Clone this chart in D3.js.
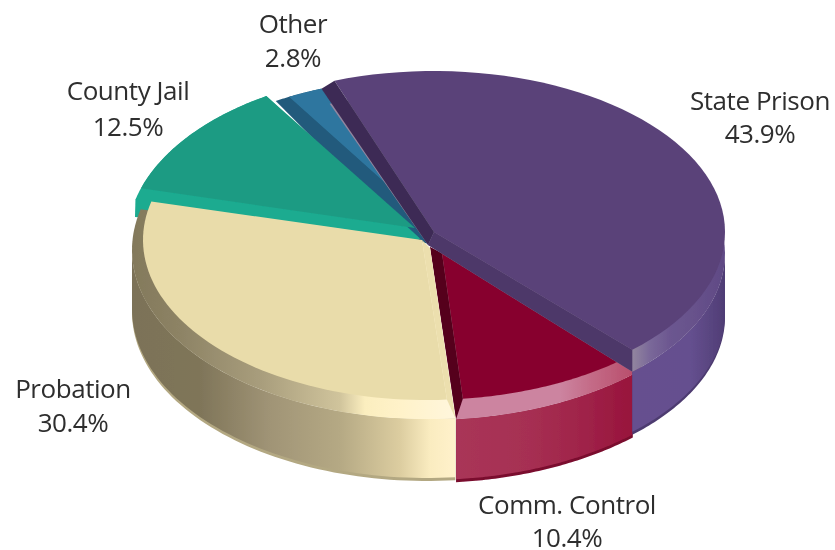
<!DOCTYPE html>
<html><head><meta charset="utf-8">
<script src="https://cdn.jsdelivr.net/npm/d3@7"></script>
<style>html,body{margin:0;padding:0;background:#fff}svg{display:block}</style>
</head><body><svg id="c" width="835" height="550" viewBox="0 0 835 550"></svg>
<script>
const categories = ["State Prison","Comm. Control","Probation","County Jail","Other"];
const shares = [43.9,10.4,30.4,12.5,2.8];
const percentLabels = ["43.9%","10.4%","30.4%","12.5%","2.8%"];

// Presentation only: every slice is exploded and bevelled on its own ellipse.
const deg = Math.PI/180;
const looks = {
 "State Prison":{order:3,c:[434,232],rx:291,ry:161,bevel:22,wall:60,apexOuter:[428,245],apexFace:[434,232],startNudge:1,
   face:"#5a4279",strip:"#4d3b70",
   bevelStops:[[632,"#93869f"],[650,"#7a6899"],[670,"#6c5790"],[725,"#604a85"]],
   wallStops:[[632,"#66508f"],[690,"#65508f"],[712,"#58447f"],[725,"#4f3d75"]],
   bands:[{from:"start",shift:[-13,8],fill:"#3d2c55"},{from:"end",fill:"#4d3769"}]},
 "Comm. Control":{order:2,c:[427,230],rx:302,ry:170,bevel:20,wall:60,apexOuter:[430,247],apexFace:[442,253],endNudge:-1.3,bevelStartNudge:-3,
   face:"#87052e",strip:"#7a0a2d",
   bevelStops:[[457,"#cc84a0"],[560,"#cc84a0"],[590,"#c46c88"],[632,"#b94f6d"]],
   wallStops:[[457,"#a93558"],[530,"#a62f52"],[580,"#a0244a"],[632,"#98143c"]],
   bands:[{from:"end",fill:"#55001f"}]},
 "Probation":{order:4,c:[427,240],rx:284,ry:160,outer:{c:[427,250],rx:295,ry:169},wall:59,apexOuter:[430,248],apexFace:[422,240],startNudge:1.5,
   face:"#e9dcaa",strip:"#b3a882",
   bevelStops:[[132,"#83795b"],[180,"#8d8365"],[260,"#a89d7c"],[340,"#d0c49c"],[365,"#fbeebf"],[400,"#fff2c9"],[455,"#fff6dc"]],
   wallStops:[[132,"#7c7258"],[200,"#7f7559"],[270,"#a09476"],[340,"#b5a984"],[400,"#dccda0"],[430,"#faecc0"],[455,"#fff1cb"]],
   bands:[{from:"start",fill:"#ecdfae"}]},
 "County Jail":{order:1,c:[415,240],rx:288,ry:168,apexFace:[415,228],startNudge:4,underApex:[[420,238.5],[418,240],[135,217]],
   face:"#1e9b83",under:"#1aab90"},
 "Other":{order:0,c:[426,238],rx:291,ry:160,apexFace:[430,223],startNudge:3,underApex:[[436,246],[414,240]],
   face:"#2f769f",under:"#215a7b"}
};

const pie = d3.pie().sort(null).value(d=>d).startAngle(-21*deg).endAngle(339*deg);
const arcs = pie(shares);
const pt = (e,a)=>[e.c[0]+e.rx*Math.sin(a), e.c[1]-e.ry*Math.cos(a)];
const line = d3.line();
const sweep = (e,a0,a1)=>d3.range(0,61).map(i=>pt(e,a0+(a1-a0)*i/60));

const svg = d3.select("#c");
const defs = svg.append("defs");
defs.append("filter").attr("id","soft").attr("x","-5%").attr("y","-5%").attr("width","110%").attr("height","110%")
  .append("feGaussianBlur").attr("stdDeviation",0.55);
function grad(id,stops){
  const xs = stops.map(s=>s[0]), x0=d3.min(xs), x1=d3.max(xs);
  const g = defs.append("linearGradient").attr("id",id).attr("gradientUnits","userSpaceOnUse")
    .attr("x1",x0).attr("x2",x1).attr("y1",0).attr("y2",0);
  stops.forEach(s=>g.append("stop").attr("offset",(s[0]-x0)/(x1-x0)).attr("stop-color",s[1]));
  return `url(#${id})`;
}
const root = svg.append("g").attr("filter","url(#soft)");

categories.map((name,i)=>({name,i,arc:arcs[i],look:looks[name]}))
 .sort((a,b)=>a.look.order-b.look.order)
 .forEach(({name,i,arc,look})=>{
  const g = root.append("g").attr("class","slice").attr("data-name",name);
  const a0=arc.startAngle, a1=arc.endAngle;
  const a0f=a0+(look.startNudge||0)*deg, a1f=a1+(look.endNudge||0)*deg;
  const outer = look.outer || (look.bevel!=null ? {c:[look.c[0],look.c[1]+look.bevel],rx:look.rx,ry:look.ry} : null);
  if(outer){
    const w0=Math.max(a0,90*deg), w1=Math.min(a1,270*deg);
    const top=sweep(outer,w0,w1);
    const wallPath=(h)=>line(top.concat(top.slice().reverse().map(p=>[p[0],p[1]+h])))+"Z";
    g.append("path").attr("d",wallPath(look.wall+3)).attr("fill",look.strip);
    g.append("path").attr("d",wallPath(look.wall)).attr("fill",grad("w"+i,look.wallStops));
    g.append("path").attr("d",line([look.apexOuter].concat(sweep(outer,a0+(look.bevelStartNudge||0)*deg,a1)))+"Z").attr("fill",grad("b"+i,look.bevelStops));
  }
  if(look.under){
    g.append("path").attr("d",line(look.underApex.concat(sweep(look,a0,a1)))+"Z").attr("fill",look.under);
  }
  g.append("path").attr("d",line([look.apexFace].concat(sweep(look,a0f,a1f)))+"Z").attr("fill",look.face);
  (look.bands||[]).forEach(b=>{
    let quad;
    const pf0=pt(look,a0f), pf1=pt(look,a1f);
    if(b.from==="start" && b.shift){
      quad=[pf0,look.apexFace,look.apexOuter,[pf0[0]+b.shift[0],pf0[1]+b.shift[1]]];
    } else if(b.from==="end"){
      quad=[pf1,look.apexFace,look.apexOuter,pt(outer,a1)];
    } else {
      quad=[pf0,look.apexFace,look.apexOuter,pt(outer,a0)];
    }
    g.append("path").attr("d",line(quad)+"Z").attr("fill",b.fill);
  });
 });

const labelAt = {
 "State Prison":[760,110,143],
 "Comm. Control":[567,514,547],
 "Probation":[73,398,432],
 "County Jail":[128,100,136],
 "Other":[293,33,67]
};
const labels = svg.append("g").attr("font-family","'Open Sans',sans-serif").attr("font-size",26)
  .attr("fill","#2e2e2e").attr("text-anchor","middle").attr("letter-spacing",-0.45)
  .attr("filter","url(#soft)");
categories.forEach((name,i)=>{
  const [x,y1,y2]=labelAt[name];
  labels.append("text").attr("x",x).attr("y",y1).text(name);
  labels.append("text").attr("x",x).attr("y",y2).text(percentLabels[i]);
});
</script></body></html>
